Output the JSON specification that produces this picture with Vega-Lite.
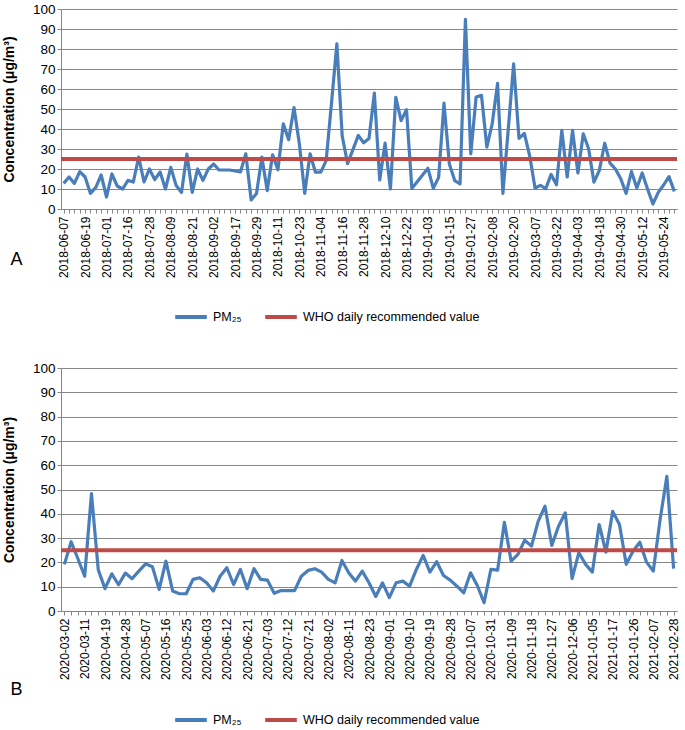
{
  "$schema": "https://vega.github.io/schema/vega-lite/v6.json",
  "padding": {"left": 2, "top": 2, "right": 6, "bottom": 2},
  "background": "white",
  "config": {
    "font": "Liberation Sans",
    "view": {"stroke": null},
    "axis": {"domainColor": "#868686", "tickColor": "#868686", "labelColor": "black", "titleColor": "black", "gridColor": "#868686", "gridWidth": 1},
    "legend": {"orient": "none", "direction": "horizontal", "symbolType": "stroke", "symbolSize": 1000, "symbolStrokeWidth": 4, "labelFontSize": 12.5, "labelColor": "black", "labelLimit": 400, "columnPadding": 15, "title": null}
  },
  "datasets": {
    "a": [
      {"date":"2018-06-07","pm":12.8},{"date":"2018-06-10","pm":16},{"date":"2018-06-13","pm":12.8},{"date":"2018-06-16","pm":18.7},
      {"date":"2018-06-19","pm":16},{"date":"2018-06-22","pm":7.8},{"date":"2018-06-25","pm":10.8},{"date":"2018-06-28","pm":17},
      {"date":"2018-07-01","pm":6},{"date":"2018-07-04","pm":17.5},{"date":"2018-07-07","pm":11.5},{"date":"2018-07-13","pm":10},
      {"date":"2018-07-16","pm":14.3},{"date":"2018-07-19","pm":13.5},{"date":"2018-07-22","pm":26},{"date":"2018-07-25","pm":13.5},
      {"date":"2018-07-28","pm":20},{"date":"2018-07-31","pm":14.7},{"date":"2018-08-03","pm":18.5},{"date":"2018-08-06","pm":10},
      {"date":"2018-08-09","pm":20.8},{"date":"2018-08-12","pm":11.7},{"date":"2018-08-15","pm":8.3},{"date":"2018-08-18","pm":27.5},
      {"date":"2018-08-21","pm":8.3},{"date":"2018-08-24","pm":20},{"date":"2018-08-27","pm":14.3},{"date":"2018-08-30","pm":20},
      {"date":"2018-09-02","pm":22.5},{"date":"2018-09-05","pm":19.5},{"date":"2018-09-08","pm":19.5},{"date":"2018-09-14","pm":19.5},
      {"date":"2018-09-17","pm":19},{"date":"2018-09-20","pm":18.5},{"date":"2018-09-23","pm":27.6},{"date":"2018-09-26","pm":4.5},
      {"date":"2018-09-29","pm":7.8},{"date":"2018-10-02","pm":25.9},{"date":"2018-10-05","pm":9.2},{"date":"2018-10-08","pm":27.1},
      {"date":"2018-10-11","pm":19.6},{"date":"2018-10-14","pm":42.6},{"date":"2018-10-17","pm":34.6},{"date":"2018-10-20","pm":50.7},
      {"date":"2018-10-23","pm":32.6},{"date":"2018-10-26","pm":7.8},{"date":"2018-10-29","pm":27.6},{"date":"2018-11-01","pm":18.4},
      {"date":"2018-11-04","pm":18.4},{"date":"2018-11-07","pm":24.2},{"date":"2018-11-10","pm":53},{"date":"2018-11-13","pm":82.6},
      {"date":"2018-11-16","pm":36.5},{"date":"2018-11-19","pm":22.7},{"date":"2018-11-22","pm":29.7},{"date":"2018-11-25","pm":36.8},
      {"date":"2018-11-28","pm":33.1},{"date":"2018-12-01","pm":35.3},{"date":"2018-12-04","pm":57.9},{"date":"2018-12-07","pm":14.5},
      {"date":"2018-12-10","pm":32.9},{"date":"2018-12-13","pm":10},{"date":"2018-12-16","pm":55.8},{"date":"2018-12-19","pm":44.2},
      {"date":"2018-12-22","pm":49.7},{"date":"2018-12-25","pm":10.3},{"date":"2018-12-28","pm":13.6},{"date":"2018-12-31","pm":17},
      {"date":"2019-01-03","pm":20.4},{"date":"2019-01-06","pm":10.3},{"date":"2019-01-09","pm":15.8},{"date":"2019-01-12","pm":52.9},
      {"date":"2019-01-15","pm":22.5},{"date":"2019-01-18","pm":14.2},{"date":"2019-01-21","pm":12.5},{"date":"2019-01-24","pm":94.8},
      {"date":"2019-01-27","pm":27.6},{"date":"2019-01-30","pm":56},{"date":"2019-02-02","pm":56.8},{"date":"2019-02-05","pm":30.9},
      {"date":"2019-02-08","pm":42.6},{"date":"2019-02-11","pm":62.8},{"date":"2019-02-14","pm":7.8},{"date":"2019-02-17","pm":40},
      {"date":"2019-02-20","pm":72.6},{"date":"2019-02-23","pm":35.3},{"date":"2019-02-26","pm":37.8},{"date":"2019-03-04","pm":26.6},
      {"date":"2019-03-07","pm":10.5},{"date":"2019-03-10","pm":11.8},{"date":"2019-03-13","pm":10.2},{"date":"2019-03-19","pm":17.3},
      {"date":"2019-03-22","pm":12.1},{"date":"2019-03-25","pm":39.3},{"date":"2019-03-28","pm":16},{"date":"2019-03-31","pm":39.3},
      {"date":"2019-04-03","pm":18},{"date":"2019-04-06","pm":37.6},{"date":"2019-04-09","pm":30.1},{"date":"2019-04-15","pm":13.4},
      {"date":"2019-04-18","pm":19.3},{"date":"2019-04-21","pm":32.9},{"date":"2019-04-24","pm":22.9},{"date":"2019-04-27","pm":20},
      {"date":"2019-04-30","pm":15.1},{"date":"2019-05-03","pm":7.8},{"date":"2019-05-06","pm":18.7},{"date":"2019-05-09","pm":10.5},
      {"date":"2019-05-12","pm":18},{"date":"2019-05-15","pm":10},{"date":"2019-05-18","pm":2.5},{"date":"2019-05-21","pm":8.3},
      {"date":"2019-05-24","pm":12},{"date":"2019-05-27","pm":16.2},{"date":"2019-05-30","pm":8.8}
    ],
    "b": [
      {"date":"2020-03-02","pm":19.2},{"date":"2020-03-05","pm":28.5},{"date":"2020-03-08","pm":21.5},
      {"date":"2020-03-11","pm":14.3},{"date":"2020-03-14","pm":48.3},{"date":"2020-04-16","pm":17},
      {"date":"2020-04-19","pm":9.2},{"date":"2020-04-22","pm":15.3},{"date":"2020-04-25","pm":10.8},
      {"date":"2020-04-28","pm":15.6},{"date":"2020-05-01","pm":13.3},{"date":"2020-05-04","pm":16.4},
      {"date":"2020-05-07","pm":19.4},{"date":"2020-05-10","pm":18.2},{"date":"2020-05-13","pm":8.9},
      {"date":"2020-05-16","pm":20.5},{"date":"2020-05-19","pm":8.2},{"date":"2020-05-22","pm":7.1},
      {"date":"2020-05-25","pm":7.1},{"date":"2020-05-28","pm":13},{"date":"2020-05-31","pm":13.7},
      {"date":"2020-06-03","pm":11.6},{"date":"2020-06-06","pm":8.2},{"date":"2020-06-09","pm":14.3},
      {"date":"2020-06-12","pm":17.8},{"date":"2020-06-15","pm":10.9},{"date":"2020-06-18","pm":17.1},
      {"date":"2020-06-21","pm":9.2},{"date":"2020-06-24","pm":17.4},{"date":"2020-06-30","pm":13},
      {"date":"2020-07-03","pm":12.7},{"date":"2020-07-06","pm":7.3},{"date":"2020-07-09","pm":8.4},
      {"date":"2020-07-12","pm":8.4},{"date":"2020-07-15","pm":8.4},{"date":"2020-07-18","pm":14.3},
      {"date":"2020-07-21","pm":16.7},{"date":"2020-07-24","pm":17.4},{"date":"2020-07-30","pm":16},
      {"date":"2020-08-02","pm":13},{"date":"2020-08-05","pm":11.6},{"date":"2020-08-08","pm":20.8},
      {"date":"2020-08-11","pm":15.7},{"date":"2020-08-14","pm":12.3},{"date":"2020-08-20","pm":16.4},
      {"date":"2020-08-23","pm":11.6},{"date":"2020-08-26","pm":6},{"date":"2020-08-29","pm":11.6},
      {"date":"2020-09-01","pm":5.5},{"date":"2020-09-04","pm":11.6},{"date":"2020-09-07","pm":12.3},
      {"date":"2020-09-10","pm":10.2},{"date":"2020-09-13","pm":17.1},{"date":"2020-09-16","pm":22.9},
      {"date":"2020-09-19","pm":16},{"date":"2020-09-22","pm":20.3},{"date":"2020-09-25","pm":14.6},
      {"date":"2020-09-28","pm":12.7},{"date":"2020-10-01","pm":10.2},{"date":"2020-10-04","pm":7.5},
      {"date":"2020-10-07","pm":15.7},{"date":"2020-10-10","pm":10.5},{"date":"2020-10-28","pm":3.4},
      {"date":"2020-10-31","pm":17.1},{"date":"2020-11-03","pm":16.8},{"date":"2020-11-06","pm":36.5},
      {"date":"2020-11-09","pm":20.5},{"date":"2020-11-12","pm":23.3},{"date":"2020-11-15","pm":29.1},
      {"date":"2020-11-18","pm":26.7},{"date":"2020-11-21","pm":37},{"date":"2020-11-24","pm":43.1},
      {"date":"2020-11-27","pm":27},{"date":"2020-11-30","pm":34.9},{"date":"2020-12-03","pm":40.4},
      {"date":"2020-12-06","pm":13.3},{"date":"2020-12-09","pm":24},{"date":"2020-12-12","pm":19.2},
      {"date":"2021-01-05","pm":16},{"date":"2021-01-08","pm":35.6},{"date":"2021-01-11","pm":24.2},
      {"date":"2021-01-17","pm":41},{"date":"2021-01-20","pm":35.6},{"date":"2021-01-23","pm":19.2},
      {"date":"2021-01-26","pm":24.6},{"date":"2021-01-29","pm":28.3},{"date":"2021-02-01","pm":20.1},
      {"date":"2021-02-07","pm":16.4},{"date":"2021-02-10","pm":37.6},{"date":"2021-02-13","pm":55.4},
      {"date":"2021-02-28","pm":17.4}
    ],
    "who": [{"limit": 25}]
  },
  "spacing": 36,
  "resolve": {"scale": {"x": "independent", "color": "independent"}, "legend": {"color": "independent"}},
  "vconcat": [
    {
      "width": 616,
      "height": 200,
      "layer": [
        {
          "data": {"name": "a"},
          "mark": {"type": "line", "strokeWidth": 3.2, "strokeJoin": "round", "color": "#4A7EBB"},
          "encoding": {
            "x": {"field": "date", "type": "ordinal", "sort": null, "scale": {"type": "point", "padding": 0.5},
              "axis": {"labelAngle": -90, "labelFontSize": 12, "labelOverlap": false, "labelPadding": 3, "tickSize": 4,
                "labelExpr": "indexof(['2018-06-07','2018-06-19','2018-07-01','2018-07-16','2018-07-28','2018-08-09','2018-08-21','2018-09-02','2018-09-17','2018-09-29','2018-10-11','2018-10-23','2018-11-04','2018-11-16','2018-11-28','2018-12-10','2018-12-22','2019-01-03','2019-01-15','2019-01-27','2019-02-08','2019-02-20','2019-03-07','2019-03-22','2019-04-03','2019-04-18','2019-04-30','2019-05-12','2019-05-24'], datum.value) >= 0 ? datum.value : ''",
                "title": "A", "titleFontSize": 18, "titleFontWeight": "normal", "titleAngle": 0, "titleAlign": "left", "titleBaseline": "middle", "titleX": -51, "titleY": 50}},
            "y": {"field": "pm", "type": "quantitative", "scale": {"domain": [0, 100]},
              "axis": {"values": [0,10,20,30,40,50,60,70,80,90,100], "labelOverlap": false, "labelFontSize": 13.5, "labelPadding": 2, "tickSize": 4, "title": "Concentration (μg/m³)", "titleFontSize": 14, "titleFontWeight": "bold", "titlePadding": 16}},
            "color": {"datum": "PM₂₅", "type": "nominal", "scale": {"domain": ["PM₂₅", "WHO daily recommended value"], "range": ["#4A7EBB", "#BE4B48"]},
              "legend": {"legendX": 112, "legendY": 290}}
          }
        },
        {
          "data": {"name": "who"},
          "mark": {"type": "rule", "strokeWidth": 4, "color": "#BE4B48"},
          "encoding": {
            "y": {"field": "limit", "type": "quantitative", "scale": {"domain": [0, 100]},
              "axis": {"values": [0,10,20,30,40,50,60,70,80,90,100], "labelOverlap": false, "labelFontSize": 13.5, "labelPadding": 2, "tickSize": 4, "title": "Concentration (μg/m³)", "titleFontSize": 14, "titleFontWeight": "bold", "titlePadding": 16}},
            "color": {"datum": "WHO daily recommended value", "type": "nominal"}
          }
        }
      ]
    },
    {
      "width": 616,
      "height": 243,
      "layer": [
        {
          "data": {"name": "b"},
          "mark": {"type": "line", "strokeWidth": 3.2, "strokeJoin": "round", "color": "#4A7EBB"},
          "encoding": {
            "x": {"field": "date", "type": "ordinal", "sort": null, "scale": {"type": "point", "padding": 0.5},
              "axis": {"labelAngle": -90, "labelFontSize": 12, "labelOverlap": false, "labelPadding": 3, "tickSize": 4,
                "labelExpr": "indexof(['2020-03-02','2020-03-11','2020-04-19','2020-04-28','2020-05-07','2020-05-16','2020-05-25','2020-06-03','2020-06-12','2020-06-21','2020-07-03','2020-07-12','2020-07-21','2020-08-02','2020-08-11','2020-08-23','2020-09-01','2020-09-10','2020-09-19','2020-09-28','2020-10-07','2020-10-31','2020-11-09','2020-11-18','2020-11-27','2020-12-06','2021-01-05','2021-01-17','2021-01-26','2021-02-07','2021-02-28'], datum.value) >= 0 ? datum.value : ''",
                "title": "B", "titleFontSize": 18, "titleFontWeight": "normal", "titleAngle": 0, "titleAlign": "left", "titleBaseline": "middle", "titleX": -51, "titleY": 78}},
            "y": {"field": "pm", "type": "quantitative", "scale": {"domain": [0, 100]},
              "axis": {"values": [0,10,20,30,40,50,60,70,80,90,100], "labelOverlap": false, "labelFontSize": 13.5, "labelPadding": 2, "tickSize": 4, "title": "Concentration (μg/m³)", "titleFontSize": 14, "titleFontWeight": "bold", "titlePadding": 16}},
            "color": {"datum": "PM₂₅", "type": "nominal", "scale": {"domain": ["PM₂₅", "WHO daily recommended value"], "range": ["#4A7EBB", "#BE4B48"]},
              "legend": {"legendX": 112, "legendY": 334}}
          }
        },
        {
          "data": {"name": "who"},
          "mark": {"type": "rule", "strokeWidth": 4, "color": "#BE4B48"},
          "encoding": {
            "y": {"field": "limit", "type": "quantitative", "scale": {"domain": [0, 100]},
              "axis": {"values": [0,10,20,30,40,50,60,70,80,90,100], "labelOverlap": false, "labelFontSize": 13.5, "labelPadding": 2, "tickSize": 4, "title": "Concentration (μg/m³)", "titleFontSize": 14, "titleFontWeight": "bold", "titlePadding": 16}},
            "color": {"datum": "WHO daily recommended value", "type": "nominal"}
          }
        }
      ]
    }
  ]
}
